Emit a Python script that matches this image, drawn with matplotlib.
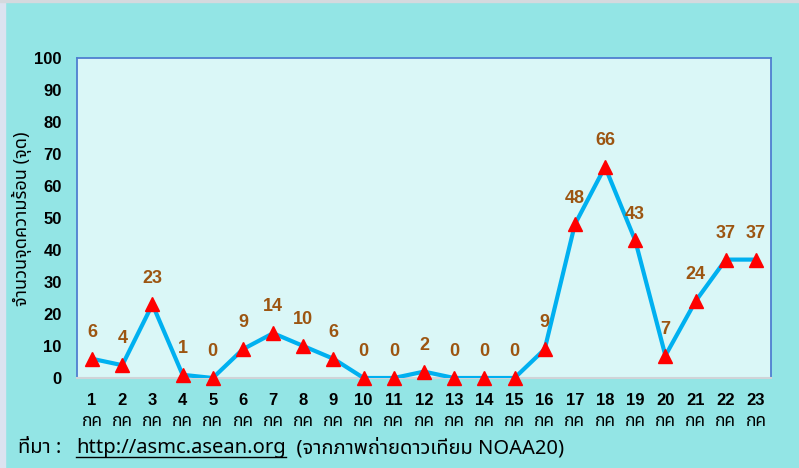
import matplotlib
matplotlib.use("Agg")
import matplotlib.pyplot as plt
from matplotlib import font_manager
from matplotlib.lines import Line2D
from matplotlib.patches import Rectangle

# ---- data ----
days = ["1", "2", "3", "4", "5", "6", "7", "8", "9", "10", "11", "12",
        "13", "14", "15", "16", "17", "18", "19", "20", "21", "22", "23"]
month_label = "กค"
hotspots = [6, 4, 23, 1, 0, 9, 14, 10, 6, 0, 0, 2, 0, 0, 0, 9, 48, 66, 43, 7, 24, 37, 37]
y_ticks = [0, 10, 20, 30, 40, 50, 60, 70, 80, 90, 100]
y_label = "จำนวนจุดความร้อน (จุด)"
src_prefix = "ที่มา :  "
src_url = "http://asmc.asean.org"
src_suffix = "  (จากภาพถ่ายดาวเทียม NOAA20)"

# ---- find a font with Thai glyphs ----
thai_font = None
try:
    from fontTools.ttLib import TTFont
    prefs = ["Tahoma", "Noto Sans Thai", "Noto Sans Thai UI", "Loma", "Garuda", "Sarabun",
             "Kinnari", "Norasi", "Umpush", "Waree", "Leelawadee UI", "Noto Serif Thai"]
    cands = {}
    for f in font_manager.fontManager.ttflist:
        if f.name in cands:
            continue
        try:
            tt = TTFont(f.fname, fontNumber=0, lazy=True)
            cmap = tt.getBestCmap()
            if cmap and 0x0E01 in cmap and 0x0E14 in cmap:
                cands[f.name] = f.fname
        except Exception:
            pass
    for p in prefs:
        if p in cands:
            thai_font = p
            break
    if thai_font is None and cands:
        thai_font = sorted(cands)[0]
except Exception:
    thai_font = None

fam = ([thai_font] if thai_font else []) + ["DejaVu Sans"]
num_fam = ["Liberation Sans", "DejaVu Sans"]

outer_bg = "#93E5E5"
plot_bg = "#DAF7F7"
line_col = "#00B0F0"
marker_col = "#FF0000"
label_col = "#9C5511"

W, H = 799, 468
fig = plt.figure(figsize=(W / 100, H / 100), dpi=100)
fig.patch.set_facecolor(outer_bg)
# left lavender strip and top gray line
fig.add_artist(Rectangle((0, 0), 5 / W, 1, transform=fig.transFigure, color="#DCE3F0", zorder=0))
fig.add_artist(Rectangle((0, 1 - 2 / H), 1, 2 / H, transform=fig.transFigure, color="#D5D9DE", zorder=0))

left, right, top, bottom = 77, 771, 58, 378
ax = fig.add_axes([left / W, 1 - bottom / H, (right - left) / W, (bottom - top) / H])
ax.set_facecolor(plot_bg)

x = list(range(len(days)))
ax.plot(x, hotspots, color=line_col, lw=3, zorder=3, solid_joinstyle="round")
ax.plot(x, hotspots, ls="none", marker="^", ms=10, color=marker_col, zorder=4, clip_on=False)

for xi, v in zip(x, hotspots):
    ax.annotate(str(v), (xi, v), xytext=(0, 19), textcoords="offset points",
                ha="center", va="center", color=label_col, fontsize=13,
                fontweight="bold", family=num_fam, zorder=5)

ax.set_xlim(-0.5, len(days) - 0.5)
ax.set_ylim(0, 100)
ax.set_yticks(y_ticks)
ax.set_yticklabels([str(t) for t in y_ticks], fontsize=12, fontweight="bold", family=num_fam)
ax.set_xticks(x)
ax.set_xticklabels(days, fontsize=12, fontweight="bold", family=num_fam)
ax.tick_params(axis="both", length=0)
ax.tick_params(axis="y", pad=11)
ax.tick_params(axis="x", pad=10.5)

for xi in x:
    ax.annotate(month_label, (xi, 0), xycoords=("data", "axes fraction"),
                xytext=(0, -31), textcoords="offset points", ha="center", va="center",
                fontsize=12.5, family=fam, color="black")

for s in ["left", "right", "top"]:
    ax.spines[s].set_color("#4F7FD0")
    ax.spines[s].set_linewidth(1.3)
ax.spines["bottom"].set_color("#D0D4D8")
ax.spines["bottom"].set_linewidth(1.5)

fig.text(22 / W, 1 - 219 / H, y_label, rotation=90, ha="center", va="center",
         fontsize=13, family=fam, color="black")

fs_src = 14.5
t1 = fig.text(18 / W, 1 - 448 / H, src_prefix, ha="left", va="center", fontsize=fs_src,
              family=fam, color="black")
t2 = fig.text(0, 0, src_url, fontsize=fs_src, family=fam, color="black")
fig.canvas.draw()
r = fig.canvas.get_renderer()
b1 = t1.get_window_extent(r)
t2.set_transform(fig.transFigure)
t2.set_va("center")
t2.set_position((b1.x1 / W + 4 / W, 1 - 448 / H))
fig.canvas.draw()
b2 = t2.get_window_extent(r)
t3 = fig.text(b2.x1 / W, 1 - 448 / H, src_suffix, ha="left", va="center", fontsize=fs_src,
              family=fam, color="black")
uy = (b2.y0 + 1) / H
fig.add_artist(Line2D([b2.x0 / W, b2.x1 / W], [uy, uy], transform=fig.transFigure,
                      color="black", lw=1))

fig.savefig("out.png", dpi=100, facecolor=outer_bg)
